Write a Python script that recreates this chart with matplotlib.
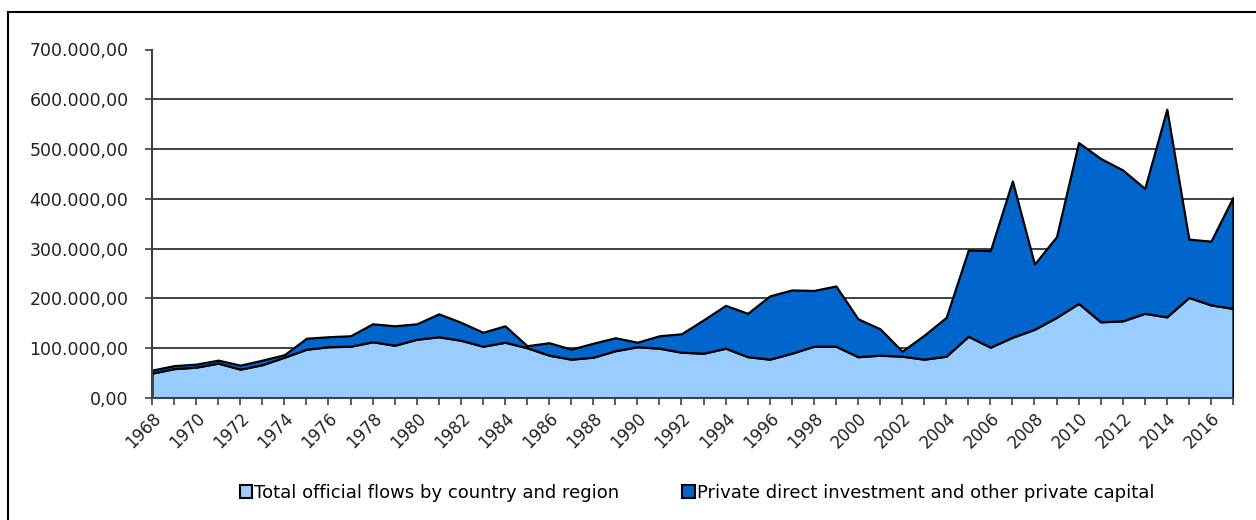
import matplotlib.pyplot as plt
from matplotlib.patches import Patch, Rectangle
from matplotlib.ticker import FuncFormatter

# flows by year, in the source currency unit
years = list(range(1968, 2018))
official = [50000, 59000, 62000, 70000, 58000, 67000, 82000,
            98000, 103000, 104000, 113000, 106000,
            118000, 123000, 116000, 104000, 112000,
            101000, 86000, 78000, 82000, 95000,
            103000, 100000, 92000, 90000, 100000,
            83000, 78000, 90000, 104000, 104000,
            83000, 86000, 84000, 78000, 84000,
            124000, 102000, 122000, 138000, 162000,
            190000, 153000, 155000, 170000, 163000,
            202000, 187000, 180000]
private = [6000, 6000, 6000, 6000, 8000, 9000, 5000,
           22000, 20000, 21000, 36000, 39000,
           31000, 46000, 36000, 28000, 33000,
           4000, 25000, 20000, 28000, 26000,
           9000, 25000, 37000, 67000, 86000,
           87000, 127000, 127000, 112000, 121000,
           76000, 53000, 10000, 48000, 78000,
           173000, 194000, 314000, 131000, 162000,
           323000, 328000, 303000, 251000, 417000,
           117000, 128000, 223000]
labels = ['Total official flows by country and region',
          'Private direct investment and other private capital']
y_ticks = [0, 100000, 200000, 300000, 400000, 500000, 600000, 700000]

light = '#99ccff'
dark = '#0066cc'
axis_col = '#404040'

plt.rcParams['font.family'] = ['DejaVu Sans']

fig = plt.figure(figsize=(12.56, 5.2), dpi=100)
ax = fig.add_axes([152 / 1256, 1 - 398 / 520, (1233 - 152) / 1256, (398 - 49.5) / 520])

# outer chart frame
fig.patches.append(Rectangle((8 / 1256, -0.05), 1.1, 1 - 12 / 520 + 0.05,
                             transform=fig.transFigure, fill=False,
                             edgecolor='black', linewidth=1.5, zorder=0))

# gridlines for every major tick but the top one
ax.hlines(y_ticks[1:-1], years[0], years[-1], colors='#202020', linewidth=1.2, zorder=1)

ax.stackplot(years, official, private, colors=[light, dark],
             edgecolor='black', linewidth=1.6, zorder=2)

ax.set_xlim(years[0], years[-1])
ax.set_ylim(0, 700000)
ax.set_yticks(y_ticks)


def euro_fmt(v, pos):
    s = '{:,.2f}'.format(v)
    return s.replace(',', 'X').replace('.', ',').replace('X', '.')


ax.yaxis.set_major_formatter(FuncFormatter(euro_fmt))
ax.set_xticks(years)
ax.set_xticklabels([str(y) if (y - years[0]) % 2 == 0 else '' for y in years],
                   rotation=45, ha='right', rotation_mode='anchor')

for s in ['top', 'right']:
    ax.spines[s].set_visible(False)
for s in ['left', 'bottom']:
    ax.spines[s].set_color(axis_col)
    ax.spines[s].set_linewidth(1.5)
    ax.spines[s].set_zorder(3)

ax.tick_params(axis='y', direction='out', length=5, width=1.2, color=axis_col,
               labelsize=12.5, labelcolor='#222222', pad=12)
ax.tick_params(axis='x', direction='out', length=5, width=1.2, color=axis_col,
               labelsize=12, labelcolor='#222222', pad=3)

handles = [Patch(facecolor=light, edgecolor='black', linewidth=1.5),
           Patch(facecolor=dark, edgecolor='black', linewidth=1.5)]
fig.legend(handles, labels, loc='center', bbox_to_anchor=(0.555, 1 - 493 / 520),
           ncol=2, frameon=False, fontsize=13, handlelength=0.7, handleheight=0.7,
           handletextpad=0.1, columnspacing=3.5)

fig.savefig('out.png', dpi=100)
